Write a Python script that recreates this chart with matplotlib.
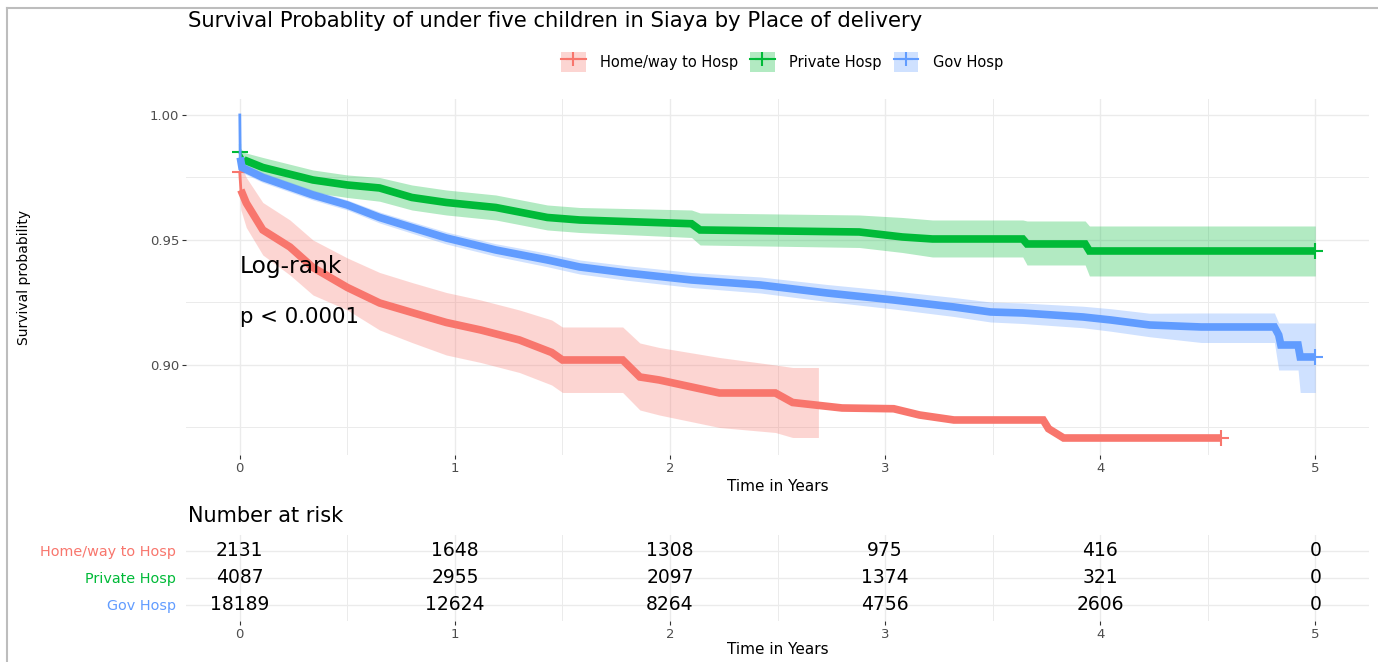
import numpy as np
import matplotlib
matplotlib.use("Agg")
import matplotlib.pyplot as plt
from matplotlib.patches import Patch
from matplotlib.lines import Line2D
from matplotlib.legend_handler import HandlerTuple

# ---- data ----
groups = ["Home/way to Hosp", "Private Hosp", "Gov Hosp"]
colors = ["#F8766D", "#00BA38", "#619CFF"]

# Home / way to hospital
home_t = [0, 0.005, 0.03, 0.107, 0.233, 0.34, 0.5, 0.65, 0.8, 0.96, 1.12, 1.3, 1.45, 1.5,
          1.78, 1.86, 1.95, 2.23, 2.49, 2.57, 2.8, 3.04, 3.16, 3.32, 3.735, 3.76, 3.83, 4.56]
home_s = [0.977, 0.970, 0.9648, 0.954, 0.9472, 0.939, 0.931, 0.9248, 0.921, 0.917, 0.914, 0.910,
          0.905, 0.902, 0.902, 0.8952, 0.894, 0.8888, 0.8888, 0.885, 0.8828, 0.8825, 0.880,
          0.878, 0.878, 0.8745, 0.8708, 0.8708]
# confidence band stops at 2.69 years in the reference
home_ci_t = [0, 0.005, 0.03, 0.107, 0.233, 0.34, 0.5, 0.65, 0.8, 0.96, 1.12, 1.3, 1.45, 1.5,
             1.78, 1.86, 1.95, 2.23, 2.49, 2.57, 2.69]
home_up = [0.984, 0.980, 0.975, 0.965, 0.958, 0.950, 0.9428, 0.937, 0.933, 0.929, 0.926, 0.922,
           0.918, 0.9152, 0.9152, 0.9088, 0.907, 0.903, 0.900, 0.899, 0.899]
home_lo = [0.968, 0.962, 0.955, 0.944, 0.936, 0.928, 0.922, 0.914, 0.909, 0.904, 0.901, 0.897,
           0.892, 0.889, 0.889, 0.882, 0.880, 0.875, 0.873, 0.871, 0.871]

# Private hospital
priv_t = [0, 0.02, 0.107, 0.34, 0.5, 0.65, 0.8, 0.96, 1.19, 1.43, 1.58, 2.1, 2.14, 2.88, 3.08,
          3.22, 3.64, 3.66, 3.93, 3.95, 5.0]
priv_s = [0.985, 0.982, 0.979, 0.974, 0.972, 0.9708, 0.967, 0.965, 0.963, 0.959, 0.958, 0.9565,
          0.954, 0.9532, 0.9512, 0.9504, 0.9504, 0.9484, 0.9484, 0.9456, 0.9456]
priv_up = [0.987, 0.985, 0.983, 0.978, 0.976, 0.975, 0.972, 0.970, 0.968, 0.964, 0.963, 0.962,
           0.9608, 0.960, 0.959, 0.958, 0.958, 0.9576, 0.9576, 0.9556, 0.9556]
priv_lo = [0.981, 0.979, 0.975, 0.969, 0.967, 0.9655, 0.962, 0.960, 0.958, 0.954, 0.953, 0.951,
           0.948, 0.947, 0.945, 0.9432, 0.9432, 0.940, 0.940, 0.9356, 0.9356]

# Government hospital
gov_t = [0, 0.002, 0.01, 0.107, 0.34, 0.5, 0.65, 0.8, 0.96, 1.19, 1.43, 1.58, 1.8, 2.1, 2.42,
         2.73, 3.04, 3.32, 3.49, 3.64, 3.92, 4.05, 4.23, 4.47, 4.81, 4.83, 4.84, 4.92, 4.93, 5.0]
gov_s = [1.0, 0.983, 0.979, 0.975, 0.968, 0.964, 0.959, 0.955, 0.9508, 0.946, 0.942, 0.9392,
         0.9368, 0.934, 0.932, 0.9288, 0.926, 0.9232, 0.9212, 0.9208, 0.9192, 0.918, 0.916,
         0.9152, 0.9152, 0.912, 0.908, 0.908, 0.9032, 0.9032]
gov_up = [1.0, 0.985, 0.981, 0.977, 0.970, 0.966, 0.9612, 0.9573, 0.9532, 0.9485, 0.9447, 0.942,
          0.9397, 0.937, 0.9352, 0.9322, 0.9296, 0.927, 0.9252, 0.9248, 0.9235, 0.9225, 0.9207,
          0.9208, 0.9208, 0.9168, 0.9168, 0.9168, 0.9168, 0.9168]
gov_lo = [1.0, 0.981, 0.977, 0.973, 0.966, 0.962, 0.9568, 0.9527, 0.9484, 0.9435, 0.9393, 0.9364,
          0.9339, 0.931, 0.9288, 0.9254, 0.9224, 0.9194, 0.9172, 0.9166, 0.9149, 0.9135, 0.9113,
          0.909, 0.909, 0.898, 0.898, 0.898, 0.889, 0.889]

risk_times = [0, 1, 2, 3, 4, 5]
home_risk = [2131, 1648, 1308, 975, 416, 0]
priv_risk = [4087, 2955, 2097, 1374, 321, 0]
gov_risk = [18189, 12624, 8264, 4756, 2606, 0]

curves = [
    (home_t, home_s, home_ci_t, home_up, home_lo),
    (priv_t, priv_s, priv_t, priv_up, priv_lo),
    (gov_t, gov_s, gov_t, gov_up, gov_lo),
]
risks = [home_risk, priv_risk, gov_risk]

plt.rcParams['font.family'] = 'DejaVu Sans'
GRID = '#EBEBEB'
TICK = '#4D4D4D'

fig = plt.figure(figsize=(13.78, 6.62), dpi=100)

# ---- survival panel ----
ax = fig.add_axes([0.135, 0.3127, 0.8585, 0.5378])
for (t, s, ct, up, lo), c in zip(curves, colors):
    ax.fill_between(ct, lo, up, color=c, alpha=0.3, lw=0)
    # first drop is drawn thin, the rest is thickened by the dense censor marks
    ax.plot(t[:2], s[:2], color=c, lw=2)
    ax.plot(t[1:], s[1:], color=c, lw=5.5, solid_joinstyle='miter', solid_capstyle='butt')
    ax.plot(t[-1], s[-1], ls='none', marker='+', ms=11, mew=1.5, color=c)
    if s[0] < 1:
        ax.plot(t[0], s[0], ls='none', marker='+', ms=11, mew=1.5, color=c)

ax.set_xlim(-0.25, 5.25)
ax.set_ylim(0.864, 1.0064)
ax.set_xticks(range(6))
ax.set_xticks(np.arange(0.5, 5.5, 1), minor=True)
ax.set_yticks([0.90, 0.95, 1.00])
ax.set_yticklabels(["0.90", "0.95", "1.00"])
ax.set_yticks([0.875, 0.925, 0.975], minor=True)
ax.grid(which='major', color=GRID, lw=1.0)
ax.grid(which='minor', color=GRID, lw=0.7)
ax.set_axisbelow(True)
for sp in ax.spines.values():
    sp.set_visible(False)
ax.tick_params(which='major', length=3, color='#333333', labelsize=9.5, labelcolor=TICK, pad=2)
ax.tick_params(which='minor', length=0)
ax.set_xlabel("Time in Years", fontsize=11, labelpad=3)
ax.set_ylabel("Survival probability", fontsize=10)
ax.yaxis.set_label_coords(-0.131, 0.5)

ax.text(0, 0.9392, "Log-rank", fontsize=16.8, va='center', ha='left')
ax.text(0, 0.9192, "p < 0.0001", fontsize=15.3, va='center', ha='left')

fig.text(188 / 1378, 1 - 21 / 662, "Survival Probablity of under five children in Siaya by Place of delivery",
         fontsize=15.2, va='center', ha='left')

handles = [(Patch(facecolor=c, alpha=0.3, edgecolor='none'),
            Line2D([], [], color=c, lw=1.5, marker='+', ms=10, mew=1.5)) for c in colors]
fig.legend(handles, groups, loc='center', bbox_to_anchor=(782 / 1378, 1 - 62 / 662), ncol=3,
           frameon=False, fontsize=10.5, handler_map={tuple: HandlerTuple(ndivide=1, pad=0)},
           handlelength=1.7, handleheight=1.7, handletextpad=1.0, columnspacing=0.8)

# ---- risk table ----
ax2 = fig.add_axes([0.135, 0.0619, 0.8585, 0.1305])
rows = [3, 2, 1]
for y, vals in zip(rows, risks):
    for t, v in zip(risk_times, vals):
        ax2.text(t, y, str(v), fontsize=13.5, ha='center', va='center', color='black')
ax2.set_xlim(-0.25, 5.25)
ax2.set_ylim(0.4, 3.6)
ax2.set_xticks(range(6))
ax2.set_xticks(np.arange(0.5, 5.5, 1), minor=True)
ax2.set_yticks(rows)
ax2.set_yticklabels(groups)
for lab, c in zip(ax2.get_yticklabels(), colors):
    lab.set_color(c)
ax2.grid(which='major', color=GRID, lw=1.0)
ax2.grid(which='minor', axis='x', color=GRID, lw=0.7)
ax2.set_axisbelow(True)
for sp in ax2.spines.values():
    sp.set_visible(False)
ax2.tick_params(axis='y', length=0, labelsize=10.4, pad=7)
ax2.tick_params(axis='x', which='major', length=3, color='#333333', labelsize=9.5, labelcolor=TICK, pad=2)
ax2.tick_params(which='minor', length=0)
ax2.set_xlabel("Time in Years", fontsize=11, labelpad=1)
fig.text(188 / 1378, 1 - 516 / 662, "Number at risk", fontsize=15, va='center', ha='left')

# thin frame seen on the left and top of the reference
fig.add_artist(Line2D([6.5 / 1378, 6.5 / 1378], [0, 1 - 8 / 662], color='#BDBDBD', lw=1.5))
fig.add_artist(Line2D([6.5 / 1378, 1], [1 - 8 / 662, 1 - 8 / 662], color='#BDBDBD', lw=1.5))

fig.savefig("out.png", dpi=100)
